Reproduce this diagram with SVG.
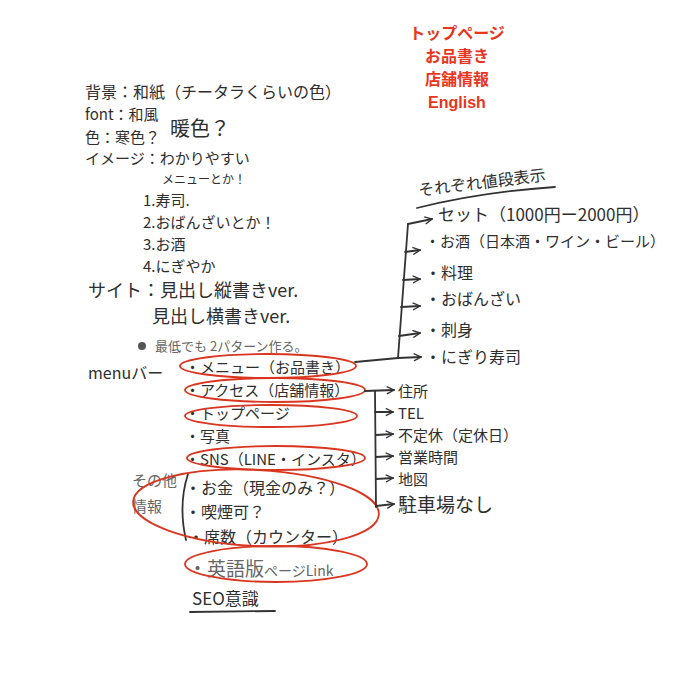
<svg xmlns="http://www.w3.org/2000/svg" width="700" height="700" viewBox="0 0 700 700">
<style>
.h{font-family:"Noto Sans CJK JP","Noto Sans",sans-serif;fill:#2e2e2e;font-size:15px}
.g{fill:#666}
.r{font-family:"Liberation Sans","Noto Sans CJK JP",sans-serif;font-weight:bold;fill:#e8361e;font-size:16px;text-anchor:middle}
.e{fill:none;stroke:#d9351f;stroke-width:1.8}
.c{fill:none;stroke:#333;stroke-width:1.8;stroke-linecap:round;stroke-linejoin:round}
</style>
<defs>
<marker id="a" viewBox="0 0 10 10" refX="9" refY="5" markerWidth="9" markerHeight="9" markerUnits="userSpaceOnUse" orient="auto">
<path d="M1 1 L9 5 L1 9" fill="none" stroke="#333" stroke-width="1.5"/>
</marker>
</defs>
<rect width="700" height="700" fill="#fff"/>
<g id="nav">
<text class="r" x="457" y="39">トップページ</text>
<text class="r" x="457" y="62">お品書き</text>
<text class="r" x="457" y="85">店舗情報</text>
<text class="r" x="457" y="108">English</text>
</g>
<g id="notes">
<text class="h" x="85" y="98" style="font-size:16px">背景：和紙（チータラくらいの色）</text>
<text class="h" x="85" y="120">font：和風</text>
<text class="h" x="85" y="143">色：寒色？</text>
<text class="h" x="170" y="136" style="font-size:20px">暖色？</text>
<text class="h" x="85" y="164">イメージ：わかりやすい</text>
<text class="h" x="162" y="184" style="font-size:12px">メニューとか！</text>
<text class="h" x="143" y="206">1.寿司.</text>
<text class="h" x="143" y="228">2.おばんざいとか！</text>
<text class="h" x="143" y="250">3.お酒</text>
<text class="h" x="143" y="272">4.にぎやか</text>
<text class="h" x="88" y="297" style="font-size:18px">サイト：見出し縦書きver.</text>
<text class="h" x="152" y="323" style="font-size:18px">見出し横書きver.</text>
<circle cx="142" cy="346" r="4" fill="#555"/>
<text class="h g" x="155" y="351" style="font-size:13px">最低でも 2パターン作る。</text>
</g>
<g id="menubar">
<text class="h" x="88" y="379" style="font-size:16px">menuバー</text>
<text class="h" x="185" y="373">・メニュー（お品書き）</text>
<text class="h" x="185" y="396">・アクセス（店舗情報）</text>
<text class="h" x="185" y="419">・トップページ</text>
<text class="h" x="185" y="442">・写真</text>
<text class="h" x="185" y="465">・SNS（LINE・インスタ）</text>
</g>
<g id="other">
<text class="h g" x="132" y="486">その他</text>
<text class="h g" x="132" y="512">情報</text>
<path class="c" d="M188 474 Q178 505 186 540" stroke="#555"/>
<text class="h" x="185" y="494" style="font-size:16px">・お金（現金のみ？）</text>
<text class="h" x="185" y="518" style="font-size:16px">・喫煙可？</text>
<text class="h" x="188" y="543" style="font-size:16px">・席数（カウンター）</text>
</g>
<g id="english">
<text class="h g" x="188" y="576" style="font-size:19px">・英語版<tspan style="font-size:14px">ページLink</tspan></text>
</g>
<g id="seo">
<text class="h" x="192" y="605" style="font-size:17px">SEO意識</text>
<path class="c" d="M190 612 L275 611" stroke-width="2.2"/>
</g>
<g id="menu-items">
<text class="h" x="419" y="196" style="font-size:16px" transform="rotate(-7 419 196)">それぞれ値段表示</text>
<path class="c" d="M417 208 Q480 192 555 187"/>
<text class="h" x="438" y="221" style="font-size:17px">セット（1000円ー2000円）</text>
<text class="h" x="425" y="247">・お酒（日本酒・ワイン・ビール）</text>
<text class="h" x="425" y="279" style="font-size:16px">・料理</text>
<text class="h" x="425" y="305" style="font-size:16px">・おばんざい</text>
<text class="h" x="425" y="336" style="font-size:16px">・刺身</text>
<text class="h" x="425" y="363" style="font-size:16px">・にぎり寿司</text>
</g>
<g id="access-items">
<text class="h" x="398" y="397">住所</text>
<text class="h" x="398" y="419">TEL</text>
<text class="h" x="398" y="441">不定休（定休日）</text>
<text class="h" x="398" y="463">営業時間</text>
<text class="h" x="398" y="485">地図</text>
<text class="h" x="398" y="512" style="font-size:19px">駐車場なし</text>
</g>
<g id="highlights">
<ellipse class="e" cx="268" cy="366" rx="88" ry="12"/>
<ellipse class="e" cx="275" cy="390" rx="90" ry="12"/>
<ellipse class="e" cx="271" cy="416" rx="86" ry="11"/>
<ellipse class="e" cx="276" cy="458" rx="89" ry="12"/>
<ellipse class="e" cx="256" cy="508" rx="123" ry="38" transform="rotate(3 256 508)"/>
<ellipse class="e" cx="276" cy="564" rx="91" ry="18"/>
</g>
<g id="connectors">
<path class="c" d="M355 362 L398 358"/>
<path class="c" d="M398 358 L408 224"/>
<path class="c" d="M408 224 L432 219" marker-end="url(#a)"/>
<path class="c" d="M405 252 L420 250" marker-end="url(#a)"/>
<path class="c" d="M403 280 L420 279" marker-end="url(#a)"/>
<path class="c" d="M401 307 L420 306" marker-end="url(#a)"/>
<path class="c" d="M399 336 L420 333" marker-end="url(#a)"/>
<path class="c" d="M398 358 L421 357" marker-end="url(#a)"/>
<path class="c" d="M365 391 L394 390" marker-end="url(#a)"/>
<path class="c" d="M375 391 L376 507"/>
<path class="c" d="M375 412 L393 412" marker-end="url(#a)"/>
<path class="c" d="M376 435 L393 434" marker-end="url(#a)"/>
<path class="c" d="M376 457 L393 456" marker-end="url(#a)"/>
<path class="c" d="M376 479 L393 478" marker-end="url(#a)"/>
<path class="c" d="M376 506 L394 504" marker-end="url(#a)"/>
</g>
</svg>
